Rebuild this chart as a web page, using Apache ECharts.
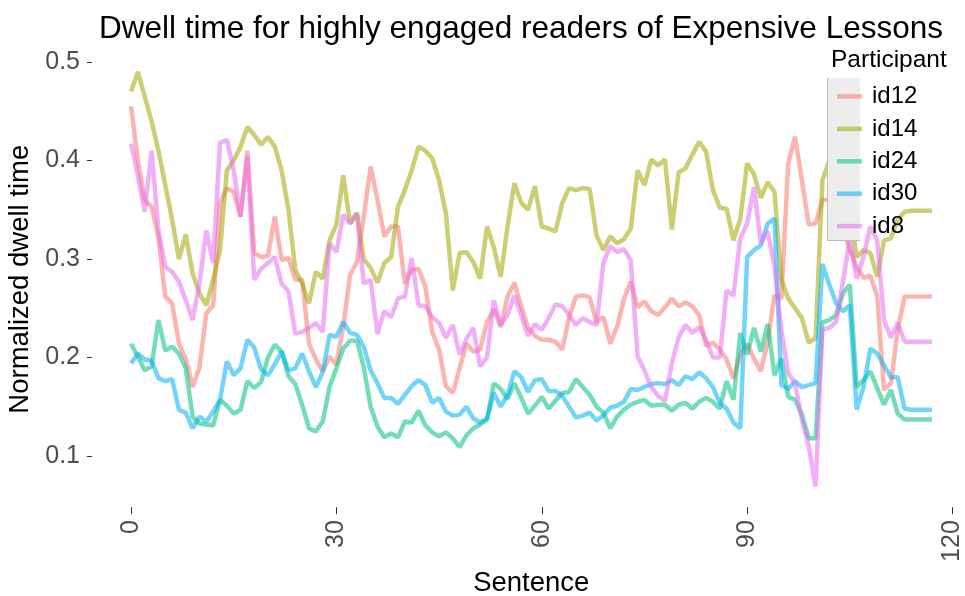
<!DOCTYPE html>
<html><head><meta charset="utf-8">
<script src="https://cdn.jsdelivr.net/npm/echarts@6/dist/echarts.min.js"></script>
<style>html,body{margin:0;padding:0;background:#fff}#c{width:965px;height:596px}</style>
</head><body><div id="c"></div><script>
const participants = ['id12','id14','id24','id30','id8'];
const id12 = [0.455,0.400,0.360,0.353,0.322,0.262,0.255,0.214,0.199,0.170,
0.190,0.245,0.253,0.357,0.372,0.368,0.343,0.410,0.306,0.302,
0.303,0.343,0.299,0.301,0.279,0.279,0.214,0.198,0.186,0.201,
0.193,0.231,0.284,0.297,0.343,0.394,0.360,0.323,0.333,0.333,
0.275,0.289,0.290,0.272,0.226,0.208,0.171,0.164,0.189,0.214,
0.206,0.208,0.236,0.249,0.231,0.262,0.276,0.252,0.230,0.222,
0.218,0.218,0.216,0.208,0.241,0.262,0.263,0.261,0.236,0.241,
0.214,0.231,0.259,0.277,0.251,0.257,0.247,0.243,0.251,0.260,
0.252,0.256,0.252,0.243,0.212,0.215,0.208,0.198,0.179,0.203,
0.214,0.199,0.186,0.216,0.263,0.260,0.397,0.424,0.380,0.335,
0.336,0.360,0.360,0.340,0.330,0.310,0.292,0.281,0.283,0.262,
0.167,0.174,0.228,0.262,0.262,0.262,0.262,0.262];
const id14 = [0.470,0.490,0.465,0.440,0.410,0.375,0.340,0.300,0.325,0.285,
0.265,0.253,0.279,0.309,0.390,0.400,0.414,0.434,0.426,0.416,
0.424,0.414,0.390,0.350,0.289,0.275,0.255,0.287,0.280,0.319,
0.335,0.385,0.336,0.347,0.300,0.291,0.276,0.296,0.302,0.353,
0.370,0.390,0.414,0.410,0.402,0.380,0.346,0.268,0.306,0.307,
0.297,0.280,0.333,0.312,0.282,0.333,0.377,0.357,0.350,0.374,
0.333,0.331,0.328,0.357,0.372,0.370,0.372,0.371,0.324,0.309,
0.323,0.316,0.320,0.331,0.390,0.375,0.401,0.395,0.401,0.330,
0.388,0.392,0.406,0.419,0.409,0.370,0.352,0.351,0.319,0.341,
0.397,0.386,0.362,0.378,0.368,0.279,0.260,0.250,0.240,0.215,
0.220,0.380,0.400,0.410,0.380,0.350,0.302,0.309,0.306,0.282,
0.319,0.321,0.340,0.348,0.349,0.349,0.349,0.349];
const id24 = [0.214,0.201,0.187,0.191,0.238,0.207,0.211,0.204,0.189,0.140,
0.133,0.132,0.131,0.157,0.151,0.143,0.147,0.176,0.169,0.175,
0.200,0.213,0.206,0.181,0.173,0.152,0.128,0.125,0.135,0.170,
0.189,0.209,0.217,0.217,0.190,0.150,0.130,0.119,0.123,0.119,
0.135,0.134,0.146,0.131,0.124,0.120,0.124,0.118,0.109,0.121,
0.128,0.132,0.137,0.174,0.168,0.158,0.174,0.159,0.143,0.151,
0.160,0.148,0.156,0.164,0.165,0.178,0.170,0.162,0.150,0.144,
0.128,0.140,0.147,0.152,0.155,0.157,0.151,0.152,0.152,0.146,
0.152,0.154,0.148,0.155,0.159,0.155,0.148,0.176,0.157,0.225,
0.203,0.230,0.206,0.234,0.182,0.199,0.160,0.157,0.142,0.118,
0.118,0.236,0.238,0.243,0.265,0.274,0.170,0.177,0.186,0.169,
0.152,0.167,0.143,0.137,0.137,0.137,0.137,0.137];
const id30 = [0.194,0.204,0.198,0.197,0.179,0.176,0.178,0.147,0.144,0.128,
0.140,0.135,0.145,0.157,0.196,0.182,0.189,0.218,0.210,0.188,
0.182,0.193,0.206,0.187,0.189,0.204,0.186,0.170,0.185,0.223,
0.221,0.236,0.225,0.223,0.211,0.187,0.174,0.159,0.159,0.153,
0.162,0.171,0.177,0.172,0.154,0.159,0.145,0.141,0.142,0.150,
0.138,0.134,0.138,0.164,0.150,0.162,0.186,0.180,0.165,0.177,
0.178,0.166,0.166,0.161,0.150,0.139,0.141,0.144,0.136,0.141,
0.149,0.151,0.155,0.168,0.167,0.170,0.173,0.174,0.173,0.177,
0.172,0.181,0.178,0.185,0.179,0.170,0.154,0.148,0.134,0.128,
0.302,0.309,0.314,0.336,0.341,0.172,0.168,0.176,0.170,0.172,
0.174,0.295,0.274,0.255,0.247,0.253,0.147,0.170,0.209,0.204,
0.192,0.180,0.180,0.148,0.147,0.147,0.147,0.147];
const id8 = [0.417,0.385,0.348,0.410,0.330,0.292,0.287,0.277,0.258,0.238,
0.275,0.329,0.296,0.418,0.421,0.390,0.343,0.404,0.279,0.290,
0.296,0.302,0.275,0.267,0.224,0.226,0.230,0.235,0.226,0.316,
0.307,0.345,0.336,0.346,0.275,0.279,0.224,0.247,0.241,0.260,
0.262,0.301,0.253,0.252,0.241,0.235,0.220,0.233,0.203,0.219,
0.230,0.191,0.200,0.258,0.233,0.243,0.263,0.243,0.222,0.234,
0.228,0.240,0.254,0.252,0.243,0.233,0.240,0.236,0.233,0.296,
0.313,0.307,0.310,0.299,0.201,0.187,0.170,0.161,0.156,0.194,
0.221,0.233,0.225,0.231,0.218,0.200,0.200,0.268,0.263,0.321,
0.336,0.373,0.316,0.328,0.292,0.228,0.184,0.174,0.137,0.110,
0.069,0.228,0.230,0.236,0.277,0.320,0.280,0.302,0.333,0.319,
0.238,0.220,0.235,0.216,0.216,0.216,0.216,0.216];
const xTicks = [0, 30, 60, 90, 120];
const yTicks = [0.1, 0.2, 0.3, 0.4, 0.5];

const seriesValues = [id12, id14, id24, id30, id8];
const colors = ['#F8766D', '#A3A500', '#00BF7D', '#00B0F6', '#E76BF3'];
const FONT = "'Liberation Sans', Arial, Helvetica, sans-serif";

const chart = echarts.init(document.getElementById('c'), null, {renderer: 'canvas'});
chart.setOption({
  backgroundColor: '#ffffff',
  animation: false,
  color: colors,
  textStyle: {fontFamily: FONT},
  title: [
    {text: 'Dwell time for highly engaged readers of Expensive Lessons', left: 94, top: 8,
     textStyle: {fontFamily: FONT, fontSize: 31.5, fontWeight: 'normal', color: '#000'}},
    {text: 'Participant', left: 826, top: 43,
     textStyle: {fontFamily: FONT, fontSize: 24.5, fontWeight: 'normal', color: '#000'}}
  ],
  legend: {
    orient: 'vertical', left: 832, top: 79.5, z: 6,
    icon: 'rect', itemWidth: 25, itemHeight: 4.5, itemGap: 8.4,
    data: participants,
    textStyle: {fontFamily: FONT, fontSize: 24, color: '#000', lineHeight: 24, padding: [0, 0, 0, 5]}
  },
  graphic: [
    {type: 'rect', z: 3, shape: {x: 827, y: 78, width: 33, height: 162}, style: {fill: '#EDEDED'}},
    {type: 'polyline', z: 3, shape: {points: [[827.5, 78], [827.5, 240.5], [860, 240.5]]}, style: {stroke: '#BDBDBD', lineWidth: 1, fill: null}}
  ],
  grid: {left: 92, right: 12.5, top: 51.2, bottom: 88.8, containLabel: false, outerBoundsMode: 'none'},
  xAxis: {
    type: 'value', min: -5.7, max: 120,
    name: 'Sentence', nameLocation: 'middle', nameGap: 59,
    nameTextStyle: {fontFamily: FONT, fontSize: 27.5, color: '#000', padding: [0, 0, 0, 18]},
    axisLine: {show: false, onZero: false},
    axisTick: {show: true, length: 7, customValues: xTicks, lineStyle: {color: '#333', width: 1}},
    axisLabel: {customValues: xTicks, rotate: 90, margin: 13, fontFamily: FONT, fontSize: 25, color: '#4D4D4D'},
    splitLine: {show: false}
  },
  yAxis: {
    type: 'value', min: 0.048, max: 0.511,
    name: 'Normalized dwell time', nameLocation: 'middle', nameGap: 56, nameRotate: 90,
    nameTextStyle: {fontFamily: FONT, fontSize: 27.5, color: '#000'},
    axisLine: {show: false, onZero: false},
    axisTick: {show: true, length: 5, customValues: yTicks, lineStyle: {color: '#333', width: 1}},
    axisLabel: {customValues: yTicks, margin: 12, fontFamily: FONT, fontSize: 25, color: '#4D4D4D',
      formatter: v => v.toFixed(1)},
    splitLine: {show: false}
  },
  series: participants.map((p, k) => ({
    name: p, type: 'line', symbol: 'none', z: 2,
    data: seriesValues[k].map((v, i) => [i, v]),
    lineStyle: {width: 4.5, opacity: 0.55, color: colors[k]},
    itemStyle: {color: colors[k], opacity: 0.55}
  }))
});
</script></body></html>
